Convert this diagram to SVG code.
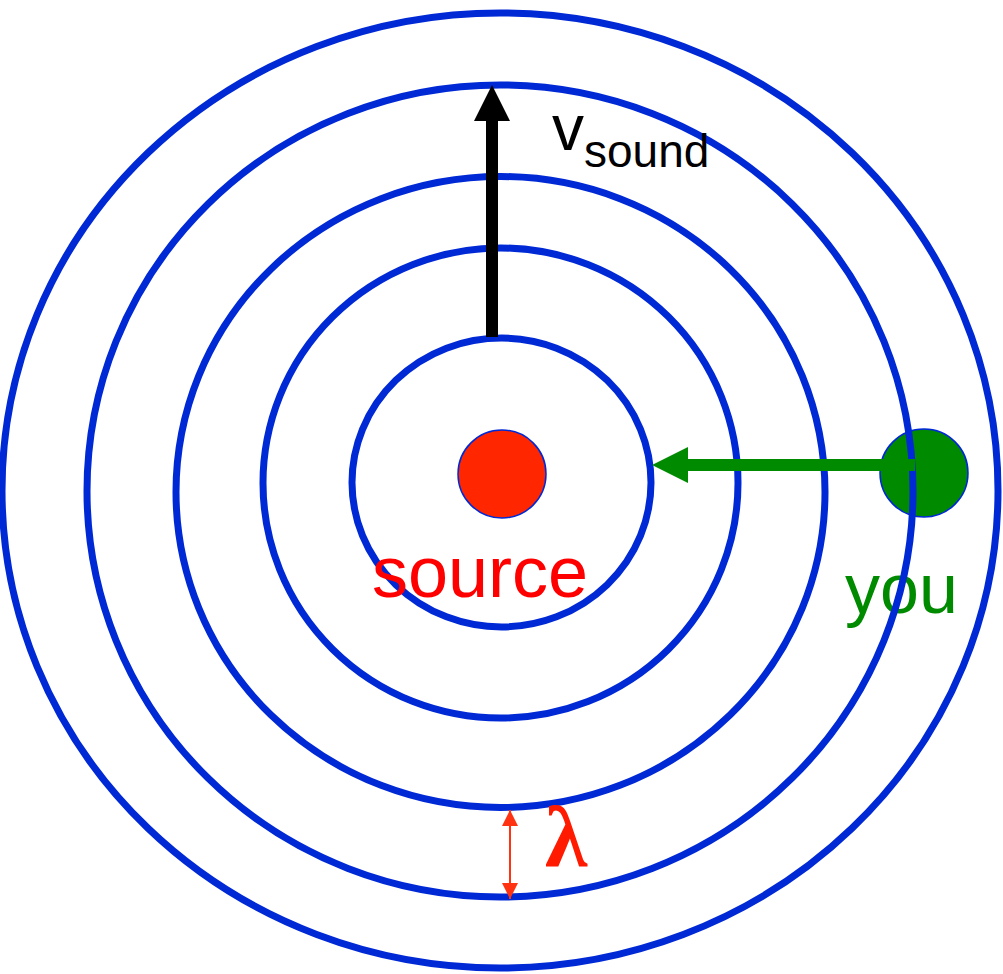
<svg xmlns="http://www.w3.org/2000/svg" width="1003" height="974" viewBox="0 0 1003 974">
<style>
.ring{fill:none;stroke:#0029d6;stroke-width:7}
.lbl{font-family:"Liberation Sans","DejaVu Sans",sans-serif}
</style>
<defs>
<marker id="blackHead" markerWidth="36" markerHeight="36" viewBox="0 0 36 36" refX="0" refY="18" orient="auto" markerUnits="userSpaceOnUse">
<path d="M0,0 L36,18 L0,36 Z" fill="#000"/>
</marker>
<marker id="greenHead" markerWidth="36" markerHeight="36" viewBox="0 0 36 36" refX="0" refY="18" orient="auto" markerUnits="userSpaceOnUse">
<path d="M0,0 L36,18 L0,36 Z" fill="#008a00"/>
</marker>
<marker id="redHead" markerWidth="16" markerHeight="16" viewBox="0 0 16 16" refX="16" refY="8" orient="auto-start-reverse" markerUnits="userSpaceOnUse">
<path d="M0,0 L16,8 L0,16 Z" fill="#ff3311"/>
</marker>
</defs>
<rect width="1003" height="974" fill="#fff"/>
<g id="you">
<circle cx="924" cy="473" r="44" fill="#008a00" stroke="#0029d6" stroke-width="1.5"/>
<text class="lbl" x="845" y="613" font-size="70" fill="#008a00">you</text>
</g>
<g id="wavefronts">
<ellipse class="ring" cx="501.5" cy="482.5" rx="149.5" ry="144.5"/>
<ellipse class="ring" cx="500.5" cy="483" rx="237.5" ry="235"/>
<ellipse class="ring" cx="500.5" cy="492" rx="324.5" ry="315.5"/>
<ellipse class="ring" cx="500" cy="491" rx="413" ry="406"/>
<ellipse class="ring" cx="500" cy="490.5" rx="498" ry="477.5"/>
</g>
<g id="source">
<circle cx="502" cy="474" r="44" fill="#ff2600" stroke="#0029d6" stroke-width="1.5"/>
<text class="lbl" x="372" y="597" font-size="72" fill="#ff0000">source</text>
</g>
<g id="connectors">
<line x1="492" y1="337" x2="492" y2="121" stroke="#000" stroke-width="12" marker-end="url(#blackHead)"/>
<line x1="915" y1="465" x2="688" y2="465" stroke="#008a00" stroke-width="12" marker-end="url(#greenHead)"/>
<line x1="510" y1="810" x2="510" y2="899" stroke="#ff3311" stroke-width="2" marker-start="url(#redHead)" marker-end="url(#redHead)"/>
</g>
<g id="vsound">
<text class="lbl" x="552" y="150" font-size="64" fill="#000">v<tspan font-size="46" dy="17">sound</tspan></text>
</g>
<g id="lambda">
<text x="545" y="866" font-family="'Liberation Serif','DejaVu Serif',serif" font-size="86" font-weight="bold" fill="#ff1a00">λ</text>
</g>
</svg>
